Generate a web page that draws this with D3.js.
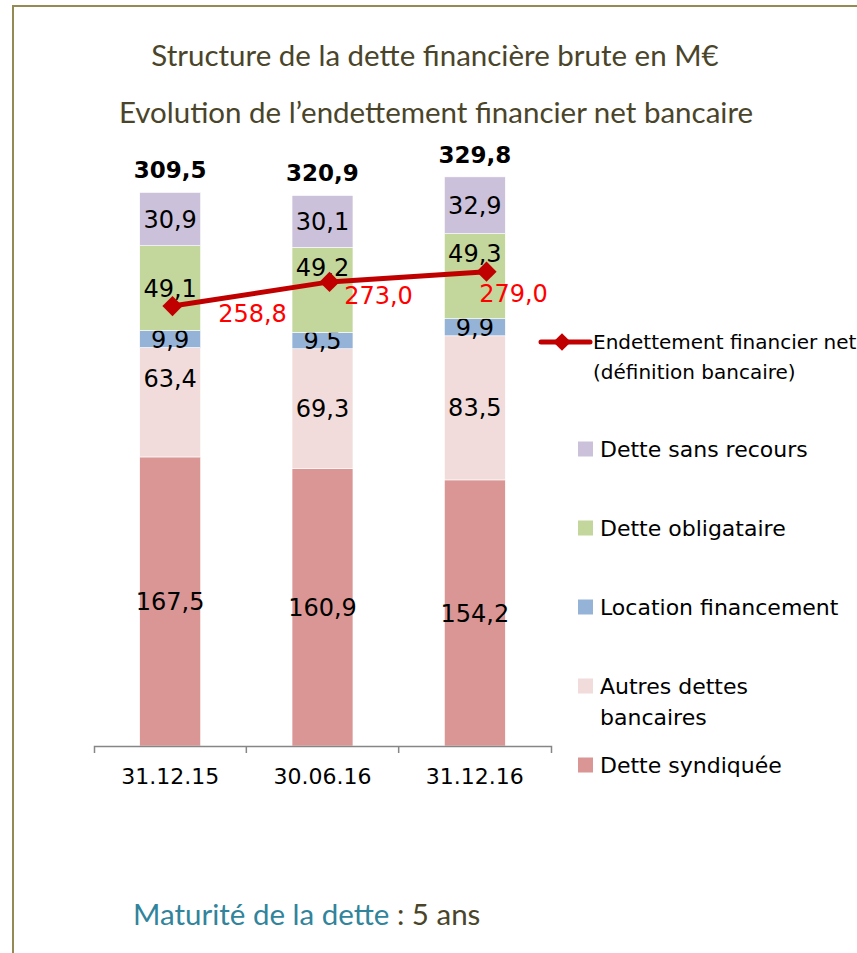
<!DOCTYPE html>
<html>
<head>
<meta charset="utf-8">
<script src="https://cdn.jsdelivr.net/npm/d3@7"></script>
<style>
  body { margin: 0; background: #fff; }
  svg { display: block; }
</style>
</head>
<body>
<div id="chart"></div>
<script>
// data
const dates = ['31.12.15', '30.06.16', '31.12.16'];
const seriesNames = ['Dette syndiquée', 'Autres dettes bancaires', 'Location financement', 'Dette obligataire', 'Dette sans recours'];
const detteSyndiquee = [167.5, 160.9, 154.2];
const autresDettes = [63.4, 69.3, 83.5];
const locationFinancement = [9.9, 9.5, 9.9];
const detteObligataire = [49.1, 49.2, 49.3];
const detteSansRecours = [30.9, 30.1, 32.9];
const totals = [309.5, 320.9, 329.8];
const endettementNet = [258.8, 273.0, 279.0];
const lineName = ['Endettement financier net', '(définition bancaire)'];

const colors = {
  'Dette syndiquée': '#d99694',
  'Autres dettes bancaires': '#f2dcdb',
  'Location financement': '#95b3d7',
  'Dette obligataire': '#c3d69b',
  'Dette sans recours': '#ccc1da'
};

// labels that were nudged by hand in the original
const labelNudge = {
  'Autres dettes bancaires': [-24, 0, 0],
  'Dette obligataire': [0, -23, -23]
};
const lineLabelOffset = [[80, 16], [49, 22], [27, 30]];

const W = 857, H = 953;
const fmt = v => d3.format('.1f')(v).replace('.', ',');
const font = 'DejaVu Sans, sans-serif';

const table = dates.map((d, i) => ({
  date: d,
  'Dette syndiquée': detteSyndiquee[i],
  'Autres dettes bancaires': autresDettes[i],
  'Location financement': locationFinancement[i],
  'Dette obligataire': detteObligataire[i],
  'Dette sans recours': detteSansRecours[i]
}));

const svg = d3.select('#chart')
  .append('svg')
  .attr('width', W)
  .attr('height', H);

// frame
svg.append('path')
  .attr('d', `M13,${H} V6 H${W}`)
  .attr('fill', 'none')
  .attr('stroke', '#948a54')
  .attr('stroke-width', 2);

// titles
svg.append('text')
  .attr('x', 435).attr('y', 66)
  .attr('text-anchor', 'middle')
  .attr('font-family', 'Lato, sans-serif')
  .attr('font-size', 29.5)
  .attr('fill', '#4a452a')
  .text('Structure de la dette financière brute en M€');
svg.append('text')
  .attr('x', 436).attr('y', 123)
  .attr('text-anchor', 'middle')
  .attr('font-family', 'Lato, sans-serif')
  .attr('font-size', 29.5)
  .attr('fill', '#4a452a')
  .text('Evolution de l’endettement financier net bancaire');

const x = d3.scaleBand().domain(dates).range([94, 551]).paddingInner(0.6).paddingOuter(0.3);
const y = d3.scaleLinear().domain([0, 350]).range([746, 142]);
const xLine = d3.scaleBand().domain(dates).range([94, 565]);
const y2 = d3.scaleLinear().domain([0, 350]).range([746, 151]);

const stacked = d3.stack().keys(seriesNames)(table);

const layers = svg.append('g')
  .selectAll('g')
  .data(stacked)
  .join('g')
  .attr('fill', d => colors[d.key]);

layers.selectAll('rect')
  .data(d => d)
  .join('rect')
  .attr('x', d => x(d.data.date))
  .attr('width', x.bandwidth())
  .attr('y', d => y(d[1]))
  .attr('height', d => y(d[0]) - y(d[1]))
  .attr('stroke', '#fff')
  .attr('stroke-width', 0.6);

// segment labels
layers.each(function(layer) {
  const nudge = labelNudge[layer.key] || [0, 0, 0];
  d3.select(this).selectAll('text')
    .data(layer)
    .join('text')
    .attr('x', d => x(d.data.date) + x.bandwidth() / 2)
    .attr('y', (d, i) => (y(d[0]) + y(d[1])) / 2 + nudge[i])
    .attr('dy', '0.36em')
    .attr('text-anchor', 'middle')
    .attr('font-family', font)
    .attr('font-size', 24)
    .attr('fill', '#000')
    .text(d => fmt(d[1] - d[0]));
});

// totals
svg.append('g')
  .selectAll('text')
  .data(stacked[stacked.length - 1])
  .join('text')
  .attr('x', d => x(d.data.date) + x.bandwidth() / 2)
  .attr('y', d => y(d[1]) - 14)
  .attr('text-anchor', 'middle')
  .attr('font-family', font)
  .attr('font-weight', 'bold')
  .attr('font-size', 23)
  .attr('fill', '#000')
  .text((d, i) => fmt(totals[i]));

// axis
const axis = svg.append('g')
  .attr('transform', `translate(0,${y(0)})`)
  .call(d3.axisBottom(x).tickSizeInner(0).tickSizeOuter(7).tickPadding(22));
axis.select('.domain').attr('stroke', '#868686').attr('stroke-width', 1.5);
axis.selectAll('text')
  .attr('font-family', font)
  .attr('font-size', 22)
  .attr('fill', '#000');
axis.selectAll('.sep')
  .data(dates.slice(1))
  .join('line')
  .attr('class', 'sep')
  .attr('x1', d => x(d) - x.step() * x.paddingInner() / 2)
  .attr('x2', d => x(d) - x.step() * x.paddingInner() / 2)
  .attr('y1', 0).attr('y2', 7)
  .attr('stroke', '#868686')
  .attr('stroke-width', 1.5);

// net debt line
const pts = dates.map((d, i) => [xLine(d) + xLine.bandwidth() / 2, y2(endettementNet[i])]);
svg.append('path')
  .attr('d', d3.line()(pts))
  .attr('fill', 'none')
  .attr('stroke', '#c00000')
  .attr('stroke-width', 5);
const diamond = d3.symbol().type(d3.symbolDiamond2).size(260);
svg.append('g')
  .selectAll('path')
  .data(pts)
  .join('path')
  .attr('transform', d => `translate(${d[0]},${d[1]})`)
  .attr('d', diamond)
  .attr('fill', '#c00000');
svg.append('g')
  .selectAll('text')
  .data(pts)
  .join('text')
  .attr('x', (d, i) => d[0] + lineLabelOffset[i][0])
  .attr('y', (d, i) => d[1] + lineLabelOffset[i][1])
  .attr('text-anchor', 'middle')
  .attr('font-family', font)
  .attr('font-size', 24)
  .attr('fill', '#ff0000')
  .text((d, i) => fmt(endettementNet[i]));

// legend
const lg = svg.append('g').attr('font-family', font).attr('font-size', 22).attr('fill', '#000');
lg.append('line')
  .attr('x1', 541).attr('x2', 590).attr('y1', 342).attr('y2', 342)
  .attr('stroke', '#c00000').attr('stroke-width', 5).attr('stroke-linecap', 'round');
lg.append('path')
  .attr('transform', 'translate(562,342)')
  .attr('d', d3.symbol().type(d3.symbolDiamond2).size(200))
  .attr('fill', '#c00000');
lg.append('text')
  .attr('x', 593).attr('y', 342)
  .attr('font-size', 20)
  .selectAll('tspan')
  .data(lineName)
  .join('tspan')
  .attr('x', 593)
  .attr('dy', (d, i) => i === 0 ? '0.36em' : '1.5em')
  .text(d => d);

const legendItems = seriesNames.slice().reverse();
const legendY = d3.scalePoint().domain(legendItems).range([449, 765]);
const legendText = {
  'Autres dettes bancaires': ['Autres dettes', 'bancaires']
};
legendItems.forEach(name => {
  const yy = legendY(name);
  lg.append('rect')
    .attr('x', 578).attr('y', yy - 7.5)
    .attr('width', 15).attr('height', 15)
    .attr('fill', colors[name]);
  const lines = legendText[name] || [name];
  lg.append('text')
    .attr('y', yy)
    .selectAll('tspan')
    .data(lines)
    .join('tspan')
    .attr('x', 600)
    .attr('dy', (d, i) => i === 0 ? '0.36em' : '1.4em')
    .text(d => d);
});

// footer
const foot = svg.append('text')
  .attr('x', 133).attr('y', 925)
  .attr('font-family', 'Lato, sans-serif')
  .attr('font-size', 29.5);
foot.append('tspan').attr('fill', '#31849b').text('Maturité de la dette');
foot.append('tspan').attr('fill', '#4a452a').text(' : 5 ans');
</script>
</body>
</html>
